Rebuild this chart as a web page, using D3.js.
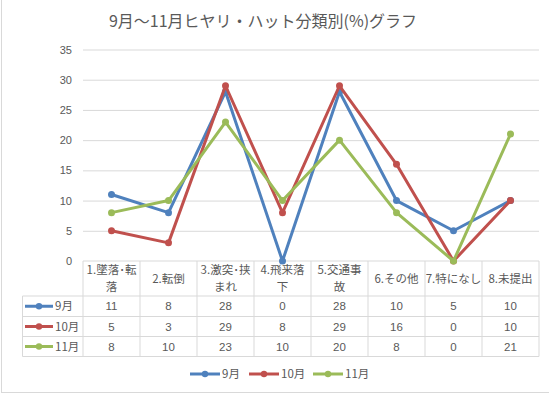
<!DOCTYPE html>
<html>
<head>
<meta charset="utf-8">
<script src="https://cdn.jsdelivr.net/npm/d3@7"></script>
<style>
body { margin: 0; background: #fff; }
svg { font-family: "Noto Sans CJK JP", "Noto Sans", sans-serif; }
</style>
</head>
<body>
<svg id="chart"></svg>
<script>
// data
var categories = ["1.墜落・転落", "2.転倒", "3.激突・挟まれ", "4.飛来落下", "5.交通事故", "6.その他", "7.特になし", "8.未提出"];
var catLines = [["1.墜落･転", "落"], ["2.転倒"], ["3.激突･挟", "まれ"], ["4.飛来落", "下"], ["5.交通事", "故"], ["6.その他"], ["7.特になし"], ["8.未提出"]];
var seriesNames = ["9月", "10月", "11月"];
var sep = [11, 8, 28, 0, 28, 10, 5, 10];
var oct = [5, 3, 29, 8, 29, 16, 0, 10];
var nov = [8, 10, 23, 10, 20, 8, 0, 21];
var yTicks = [0, 5, 10, 15, 20, 25, 30, 35];
var colors = ["#4F81BD", "#C0504D", "#9BBB59"];

var series = [sep, oct, nov];

var width = 549, height = 395;
var plotLeft = 83, plotRight = 539, plotTop = 49.5, zeroY = 261;
var svg = d3.select("#chart").attr("width", width).attr("height", height);

// outer chart frame
svg.append("rect").attr("x", 1.5).attr("y", -5).attr("width", width + 10).attr("height", 397.5)
  .attr("fill", "none").attr("stroke", "#d9d9d9");

svg.append("text").attr("x", 263).attr("y", 27).attr("text-anchor", "middle")
  .attr("font-size", 16).attr("fill", "#595959").text("9月～11月ヒヤリ・ハット分類別(%)グラフ");

var x = d3.scaleBand().domain(categories).range([plotLeft, plotRight]);
var y = d3.scaleLinear().domain([0, 35]).range([zeroY, plotTop]);

// gridlines + y labels
var yAxis = d3.axisLeft(y).tickValues(yTicks).tickSize(-(plotRight - plotLeft)).tickPadding(11);
var gy = svg.append("g").attr("transform", "translate(" + plotLeft + ",0)").call(yAxis);
gy.select(".domain").remove();
gy.selectAll(".tick line").attr("stroke", "#d9d9d9");
gy.selectAll(".tick text").attr("fill", "#595959").attr("font-size", 11).attr("font-family", "Liberation Sans, sans-serif");
gy.selectAll(".tick").filter(function(d) { return d === 0; }).select("line").remove();

// data table
var rowTop = [zeroY, 296, 316.5, 336.5, 356.5];
var tableLeft = 22.5;
var grid = svg.append("g").attr("stroke", "#d9d9d9").attr("fill", "none");
grid.append("line").attr("x1", plotLeft).attr("x2", plotRight).attr("y1", rowTop[0]).attr("y2", rowTop[0]);
rowTop.slice(1).forEach(function(yy) {
  grid.append("line").attr("x1", tableLeft).attr("x2", plotRight).attr("y1", yy).attr("y2", yy);
});
var bounds = categories.map(function(c) { return x(c); }).concat([plotRight]);
bounds.forEach(function(bx) {
  grid.append("line").attr("x1", bx).attr("x2", bx).attr("y1", rowTop[0]).attr("y2", rowTop[4]);
});
grid.append("line").attr("x1", tableLeft).attr("x2", tableLeft).attr("y1", rowTop[1]).attr("y2", rowTop[4]);

// header text
categories.forEach(function(c, i) {
  var cx = x(c) + x.bandwidth() / 2;
  var lines = catLines[i];
  var mid = (rowTop[0] + rowTop[1]) / 2;
  var start = mid - (lines.length - 1) * 8.5;
  lines.forEach(function(t, j) {
    svg.append("text").attr("x", cx).attr("y", start + j * 17).attr("dy", "0.35em")
      .attr("text-anchor", "middle").attr("font-size", 11.5).attr("fill", "#595959").text(t);
  });
});

// value rows
series.forEach(function(vals, si) {
  var cy = (rowTop[si + 1] + rowTop[si + 2]) / 2;
  svg.append("line").attr("x1", 25).attr("x2", 53).attr("y1", cy).attr("y2", cy)
    .attr("stroke", colors[si]).attr("stroke-width", 3);
  svg.append("circle").attr("cx", 39).attr("cy", cy).attr("r", 3.2).attr("fill", colors[si]);
  svg.append("text").attr("x", 55).attr("y", cy).attr("dy", "0.35em")
    .attr("font-size", 11.5).attr("fill", "#595959").text(seriesNames[si]);
  vals.forEach(function(v, i) {
    svg.append("text").attr("x", x(categories[i]) + x.bandwidth() / 2).attr("y", cy).attr("dy", "0.35em")
      .attr("text-anchor", "middle").attr("font-size", 11.5).attr("fill", "#595959")
      .attr("font-family", "Liberation Sans, sans-serif").text(v);
  });
});

// lines
var line = d3.line()
  .x(function(d, i) { return x(categories[i]) + x.bandwidth() / 2; })
  .y(function(d) { return y(d); });

series.forEach(function(vals, si) {
  svg.append("path").datum(vals).attr("d", line).attr("fill", "none")
    .attr("stroke", colors[si]).attr("stroke-width", 3).attr("stroke-linejoin", "round");
  svg.append("g").selectAll("circle").data(vals).enter().append("circle")
    .attr("cx", function(d, i) { return x(categories[i]) + x.bandwidth() / 2; })
    .attr("cy", function(d) { return y(d); })
    .attr("r", 3.5).attr("fill", colors[si]);
});

// legend
var legX = [190, 249, 313];
seriesNames.forEach(function(n, si) {
  var ly = 374;
  svg.append("line").attr("x1", legX[si]).attr("x2", legX[si] + 30).attr("y1", ly).attr("y2", ly)
    .attr("stroke", colors[si]).attr("stroke-width", 3);
  svg.append("circle").attr("cx", legX[si] + 15).attr("cy", ly).attr("r", 3.2).attr("fill", colors[si]);
  svg.append("text").attr("x", legX[si] + 32).attr("y", ly).attr("dy", "0.35em")
    .attr("font-size", 11.5).attr("fill", "#595959").text(n);
});
</script>
</body>
</html>
